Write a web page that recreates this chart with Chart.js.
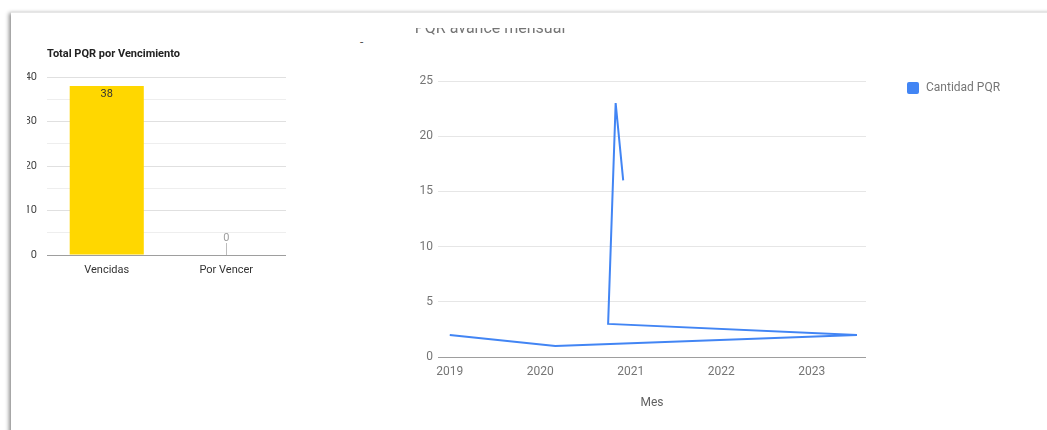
<!DOCTYPE html>
<html>
<head>
<meta charset="utf-8">
<script src="https://cdn.jsdelivr.net/npm/chart.js@4.4.1/dist/chart.umd.min.js"></script>
<style>
  html, body { margin: 0; padding: 0; background: #fff; }
  body { width: 1047px; height: 430px; position: relative; overflow: hidden; font-family: Roboto, Arial, sans-serif; }
  .card { position: absolute; left: 11px; top: 12px; right: -10px; bottom: -10px; background: #fff;
          border-top: 1px solid #e6e6e6; box-shadow: -3px 0 4px -1px rgba(0,0,0,0.45); }
  .clip { position: absolute; overflow: hidden; }
  .clip canvas { position: absolute; }
  .dash { position: absolute; left: 360px; top: 35px; font-size: 12px; color: #555; }
</style>
</head>
<body>
<div class="card"></div>
<div class="dash">-</div>
<div class="clip" style="left:27px; top:30px; width:300px; height:260px;">
  <canvas id="barChart" width="300" height="260" style="left:-15px; top:0;"></canvas>
</div>
<div class="clip" style="left:380px; top:28px; width:667px; height:402px;">
  <canvas id="lineChart" width="667" height="412" style="left:0; top:-10px;"></canvas>
</div>
<script>
const barCategories = ['Vencidas', 'Por Vencer'];
const barValues = [38, 0];

const months = ['2019-01', '2020-03', '2023-07', '2020-10', '2020-11', '2020-12'];
const pqrCounts = [2, 1, 2, 3, 23, 16];
const yearTicks = [2019, 2020, 2021, 2022, 2023];

// "2020-03" -> 2020.1667 so a linear axis can place it
function monthToYear(m) {
  const parts = m.split('-');
  return Number(parts[0]) + (Number(parts[1]) - 1) / 12;
}

Chart.defaults.font.family = 'Roboto, Arial, sans-serif';

// text drawn at fixed spots in the canvas (titles)
const textPlugin = {
  id: 'textPlugin',
  afterDraw(chart, args, opts) {
    const ctx = chart.ctx;
    ctx.save();
    (opts.items || []).forEach(function(t) {
      ctx.font = t.font;
      ctx.fillStyle = t.color;
      ctx.textAlign = t.align || 'left';
      ctx.textBaseline = t.baseline || 'middle';
      ctx.fillText(t.text, t.x, t.y);
    });
    ctx.restore();
  }
};

const barLabels = {
  id: 'barLabels',
  afterDatasetsDraw(chart) {
    const ctx = chart.ctx;
    const meta = chart.getDatasetMeta(0);
    const base = chart.scales.y.getPixelForValue(0);
    ctx.save();
    ctx.font = '11px Roboto, Arial, sans-serif';
    ctx.textAlign = 'center';
    ctx.textBaseline = 'middle';
    meta.data.forEach(function(bar, i) {
      const v = chart.data.datasets[0].data[i];
      if (v > 0) {
        ctx.fillStyle = '#333';
        ctx.fillText(String(v), bar.x, bar.y + 8);
      } else {
        ctx.fillStyle = '#9e9e9e';
        ctx.fillText(String(v), bar.x, base - 17);
        ctx.strokeStyle = '#bdbdbd';
        ctx.lineWidth = 1;
        ctx.beginPath();
        ctx.moveTo(Math.round(bar.x) + 0.5, base - 12);
        ctx.lineTo(Math.round(bar.x) + 0.5, base);
        ctx.stroke();
      }
    });
    ctx.restore();
  }
};

const lineLegend = {
  id: 'lineLegend',
  afterDraw(chart) {
    const ctx = chart.ctx;
    const ds = chart.data.datasets[0];
    ctx.save();
    ctx.fillStyle = ds.borderColor;
    ctx.beginPath();
    ctx.roundRect(527, 64, 12, 12, 2);
    ctx.fill();
    ctx.font = '12px Roboto, Arial, sans-serif';
    ctx.fillStyle = '#757575';
    ctx.textAlign = 'left';
    ctx.textBaseline = 'middle';
    ctx.fillText(ds.label, 546, 70);
    ctx.restore();
  }
};

new Chart(document.getElementById('barChart'), {
  type: 'bar',
  data: {
    labels: barCategories,
    datasets: [{
      data: barValues,
      backgroundColor: '#FFD700',
      barPercentage: 0.62,
      categoryPercentage: 1
    }]
  },
  plugins: [barLabels, textPlugin],
  options: {
    responsive: false,
    animation: false,
    layout: { padding: { top: 47, right: 26, left: 0, bottom: 0 } },
    plugins: {
      legend: { display: false },
      tooltip: { enabled: false },
      textPlugin: {
        items: [{ text: 'Total PQR por Vencimiento', x: 35, y: 24, font: 'bold 11px Roboto, Arial, sans-serif', color: '#222' }]
      }
    },
    scales: {
      x: {
        grid: { display: false, drawTicks: false },
        border: { display: false },
        ticks: { color: '#333', font: { size: 11 }, padding: 9, maxRotation: 0 },
        afterFit(s) { s.height = 35; }
      },
      y: {
        min: 0, max: 40,
        border: { display: false },
        grid: {
          drawTicks: false,
          color(c) {
            if (c.tick.value === 0) return '#9e9e9e';
            return c.tick.value % 10 === 0 ? '#e0e0e0' : '#eeeeee';
          }
        },
        ticks: {
          stepSize: 5, padding: 10, color: '#444', font: { size: 11 },
          callback(v) { return v % 10 === 0 ? v : ''; }
        },
        afterFit(s) { s.width = 35; }
      }
    }
  }
});

new Chart(document.getElementById('lineChart'), {
  type: 'line',
  data: {
    datasets: [{
      label: 'Cantidad PQR',
      data: months.map(function(m, i) { return { x: monthToYear(m), y: pqrCounts[i] }; }),
      borderColor: '#4285F4',
      borderWidth: 2,
      pointRadius: 0,
      tension: 0,
      fill: false
    }]
  },
  plugins: [lineLegend, textPlugin],
  options: {
    responsive: false,
    animation: false,
    layout: { padding: { top: 63, right: 181, left: 0, bottom: 0 } },
    plugins: {
      legend: { display: false },
      tooltip: { enabled: false },
      textPlugin: {
        items: [{ text: 'PQR avance mensual', x: 110, y: 15, align: 'center', baseline: 'alphabetic', font: '16px Roboto, Arial, sans-serif', color: '#757575' }]
      }
    },
    scales: {
      x: {
        type: 'linear',
        min: 2018.87, max: 2023.6,
        grid: { display: false, drawTicks: false },
        border: { display: false },
        afterBuildTicks(s) { s.ticks = yearTicks.map(function(y) { return { value: y }; }); },
        ticks: { color: '#757575', font: { size: 12 }, padding: 8, maxRotation: 0, callback(v) { return String(v); } },
        title: { display: true, text: 'Mes', color: '#616161', font: { size: 12 }, padding: { top: 0, bottom: 20 } },
        afterFit(s) { s.height = 73; }
      },
      y: {
        min: 0, max: 25,
        border: { display: false },
        grid: {
          drawTicks: false,
          color(c) { return c.tick.value === 0 ? '#9e9e9e' : '#e6e6e6'; }
        },
        ticks: { stepSize: 5, padding: 5, color: '#757575', font: { size: 12 } },
        afterFit(s) { s.width = 58; }
      }
    }
  }
});
</script>
</body>
</html>
